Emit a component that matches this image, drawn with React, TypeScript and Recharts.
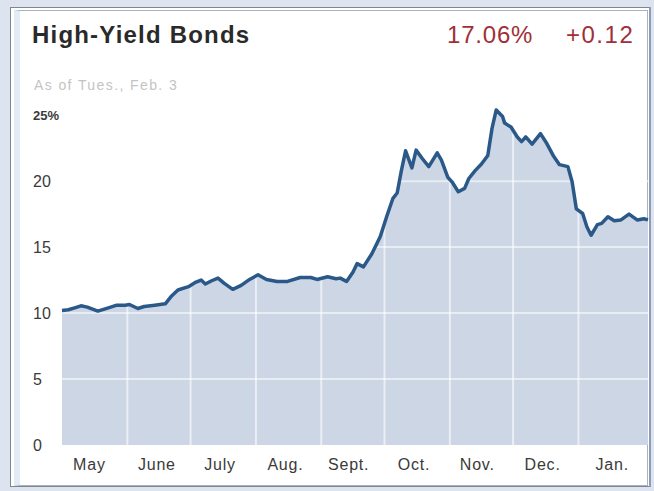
import React from "react";
import {
  ComposedChart,
  Area,
  Line,
  XAxis,
  YAxis,
  ReferenceLine,
} from "recharts";

// days since May 1, 2008
const days = [0,3,6,9,12,17,22,26,30,32,36,39,44,49,52,55,60,63,66,68,71,74,77,81,85,89,93,97,102,107,113,118,121,126,130,132,135,138,140,143,147,151,154,157,159,161,163,166,168,171,174,178,180,183,185,188,191,193,196,199,202,204,206,209,210,213,216,218,220,223,227,230,233,236,240,242,244,247,249,251,254,256,259,262,265,269,273,276,278];

// high-yield bond yield, %
const yields = [10.2,10.25,10.4,10.55,10.45,10.15,10.4,10.6,10.6,10.65,10.35,10.5,10.6,10.7,11.3,11.75,12.0,12.3,12.5,12.2,12.45,12.65,12.25,11.8,12.1,12.55,12.9,12.55,12.4,12.4,12.7,12.7,12.55,12.75,12.6,12.65,12.4,13.1,13.75,13.5,14.5,15.8,17.3,18.7,19.1,20.8,22.3,21.0,22.35,21.7,21.1,22.15,21.6,20.3,19.95,19.2,19.45,20.2,20.8,21.3,21.95,24.0,25.4,24.9,24.4,24.1,23.35,23.0,23.35,22.8,23.6,22.85,21.95,21.25,21.1,19.95,17.9,17.55,16.55,15.9,16.7,16.8,17.3,17.0,17.05,17.5,17.05,17.15,17.06];

const monthStartDates = ["2008-06-01","2008-07-01","2008-08-01","2008-09-01","2008-10-01","2008-11-01","2008-12-01","2009-01-01"];
const labelDates = ["2008-05-14","2008-06-15","2008-07-15","2008-08-15","2008-09-14","2008-10-15","2008-11-14","2008-12-15","2009-01-17"];
const monthLabels = ["May","June","July","Aug.","Sept.","Oct.","Nov.","Dec.","Jan."];
const yTicks = [0, 5, 10, 15, 20, 25];
const yGrid = [5, 10, 15, 20];

const title = "High-Yield Bonds";
const lastValue = "17.06%";
const change = "+0.12";
const asOf = "As of Tues., Feb. 3";

const START = Date.UTC(2008, 4, 1);
const dayOf = (s: string) => {
  const [y, m, d] = s.split("-").map(Number);
  return Math.round((Date.UTC(y, m - 1, d) - START) / 86400000);
};

const data = days.map((d, i) => ({ day: d, v: yields[i] }));
const labelDays = labelDates.map(dayOf);
const gridDays = monthStartDates.map(dayOf);
const lastDay = dayOf("2009-02-03");

const FONT = '"Liberation Sans", Arial, Helvetica, sans-serif';

const YTick = (props: any) => {
  const { y, payload } = props;
  const is25 = payload.value === 25;
  return (
    <text
      x={33}
      y={y}
      dy="0.36em"
      textAnchor="start"
      fontFamily={FONT}
      fontSize={is25 ? 13 : 16}
      fontWeight={is25 ? 700 : 400}
      fill="#3a3a3a"
    >
      {is25 ? "25%" : String(payload.value)}
    </text>
  );
};

export default function App() {
  return (
    <div
      style={{
        position: "absolute",
        left: 0,
        top: 0,
        width: 654,
        height: 491,
        background: "#dde3ef",
        fontFamily: FONT,
        overflow: "hidden",
      }}
    >
      <div
        style={{
          position: "absolute",
          left: 10,
          top: 7,
          width: 640,
          height: 480,
          background: "#ffffff",
          border: "1px solid #80868f",
          boxSizing: "border-box",
        }}
      />
      <div
        style={{
          position: "absolute",
          left: 14,
          top: 10,
          width: 634,
          height: 476,
          border: "1px solid #aab2c0",
          borderLeft: "6px solid #e3ebf6",
          boxSizing: "border-box",
        }}
      />
      <div
        style={{
          position: "absolute",
          left: 649,
          top: 7,
          width: 2,
          height: 480,
          background: "#8c9bb8",
        }}
      />
      <div
        style={{
          position: "absolute",
          left: 32,
          top: 22,
          fontSize: 24,
          fontWeight: 700,
          color: "#2a2a2a",
          letterSpacing: 1.2,
          lineHeight: "26px",
          whiteSpace: "nowrap",
        }}
      >
        {title}
      </div>
      <div
        style={{
          position: "absolute",
          left: 447,
          top: 22,
          fontSize: 24,
          color: "#a03038",
          letterSpacing: 0.8,
          lineHeight: "26px",
          whiteSpace: "nowrap",
        }}
      >
        {lastValue}
      </div>
      <div
        style={{
          position: "absolute",
          left: 566,
          top: 22,
          fontSize: 24,
          color: "#a03038",
          letterSpacing: 1.5,
          lineHeight: "26px",
          whiteSpace: "nowrap",
        }}
      >
        {change}
      </div>
      <div
        style={{
          position: "absolute",
          left: 34,
          top: 77,
          fontSize: 14,
          color: "#c4c4c4",
          letterSpacing: 1.4,
          lineHeight: "16px",
          whiteSpace: "nowrap",
        }}
      >
        {asOf}
      </div>
      <div style={{ position: "absolute", left: 0, top: 0 }}>
        <ComposedChart
          width={654}
          height={491}
          data={data}
          margin={{ top: 102, right: 6, bottom: 16, left: 0 }}
        >
          <XAxis
            dataKey="day"
            type="number"
            domain={[0, lastDay]}
            ticks={labelDays}
            tickFormatter={(v: number) => monthLabels[labelDays.indexOf(v)] ?? ""}
            axisLine={false}
            tickLine={false}
            tickMargin={8}
            height={30}
            interval={0}
            tick={{ fontSize: 16, fill: "#3a3a3a", fontFamily: FONT, letterSpacing: 0.8 }}
          />
          <YAxis
            type="number"
            domain={[0, 26]}
            ticks={yTicks}
            axisLine={false}
            tickLine={false}
            width={62}
            interval={0}
            tick={<YTick />}
          />
          <Area
            dataKey="v"
            type="linear"
            stroke="none"
            fill="#cdd6e5"
            fillOpacity={1}
            isAnimationActive={false}
            dot={false}
            activeDot={false}
          />
          {gridDays.map((d) => (
            <ReferenceLine
              key={"vx" + d}
              x={d}
              stroke="#ffffff"
              strokeOpacity={0.6}
              strokeWidth={2}
              zIndex={150}
            />
          ))}
          {yGrid.map((g) => (
            <ReferenceLine
              key={"hy" + g}
              y={g}
              stroke="#ffffff"
              strokeOpacity={0.55}
              strokeWidth={2}
              zIndex={150}
            />
          ))}
          <Line
            dataKey="v"
            type="linear"
            stroke="#2a5989"
            strokeWidth={3.5}
            strokeLinejoin="round"
            dot={false}
            activeDot={false}
            isAnimationActive={false}
          />
        </ComposedChart>
      </div>
    </div>
  );
}
